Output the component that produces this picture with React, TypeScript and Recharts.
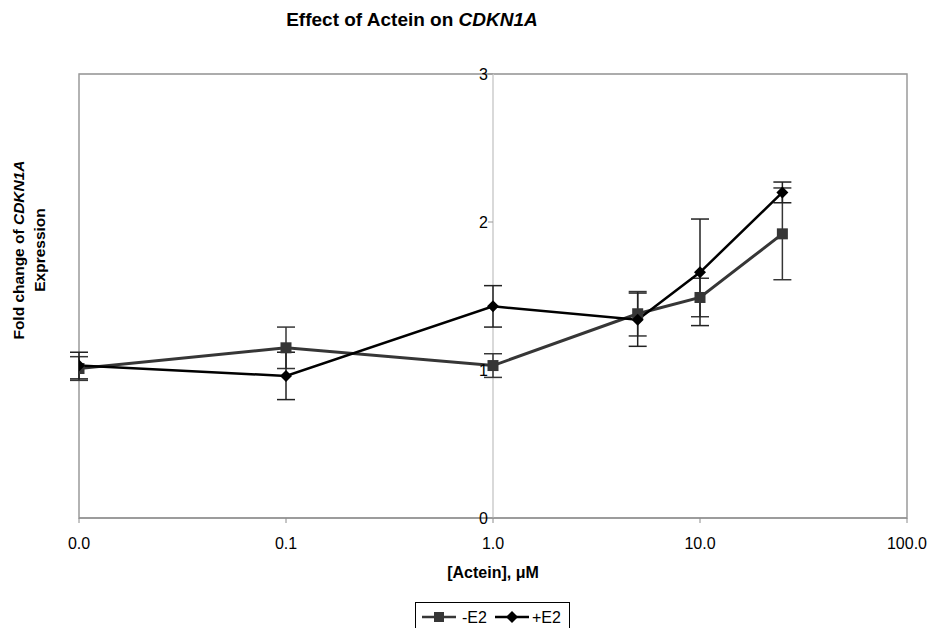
import {
  LineChart,
  Line,
  XAxis,
  YAxis,
  CartesianGrid,
  ErrorBar,
  ReferenceLine,
  ReferenceArea,
  ReferenceDot,
} from "recharts";

// concentrations (µM); 0.01 is shown as "0.0" on the axis
const doses = [0.01, 0.1, 1, 5, 10, 25];
const minusE2 = [1.01, 1.15, 1.03, 1.38, 1.49, 1.92];
const minusE2Err = [0.08, 0.14, 0.08, 0.15, 0.13, 0.31];
const plusE2 = [1.03, 0.96, 1.43, 1.34, 1.66, 2.2];
const plusE2Err = [0.09, 0.16, 0.14, 0.18, 0.36, 0.07];

const xTicks = [0.01, 0.1, 1, 10, 100];
const yTicks = [0, 1, 2, 3];

const data = doses.map((d, i) => ({
  dose: d,
  minus: minusE2[i],
  minusErr: minusE2Err[i],
  plus: plusE2[i],
  plusErr: plusE2Err[i],
}));

const FONT = '"Liberation Sans", Arial, sans-serif';
const MINUS_COLOR = "#363636";
const PLUS_COLOR = "#000000";

const SquareDot = (p: any) => (
  <rect key={p.index} x={p.cx - 5.5} y={p.cy - 5.5} width={11} height={11} fill={MINUS_COLOR} />
);

const DiamondDot = (p: any) => (
  <path
    key={p.index}
    d={`M${p.cx},${p.cy - 6} L${p.cx + 6},${p.cy} L${p.cx},${p.cy + 6} L${p.cx - 6},${p.cy} Z`}
    fill={PLUS_COLOR}
  />
);

function LegendIcon({ kind }: { kind: "square" | "diamond" }) {
  return (
    <svg width={34} height={14} style={{ display: "block" }}>
      <line x1={0} x2={34} y1={7} y2={7} stroke={kind === "square" ? MINUS_COLOR : PLUS_COLOR} strokeWidth={2.5} />
      {kind === "square" ? (
        <rect x={12} y={2} width={10} height={10} fill={MINUS_COLOR} />
      ) : (
        <path d="M17,1 L23,7 L17,13 L11,7 Z" fill={PLUS_COLOR} />
      )}
    </svg>
  );
}

export default function App() {
  return (
    <div
      style={{
        position: "absolute",
        left: 0,
        top: 0,
        width: 929,
        height: 628,
        overflow: "hidden",
        background: "#fff",
        fontFamily: FONT,
      }}
    >
      <div
        style={{
          position: "absolute",
          left: 212,
          top: 8,
          width: 400,
          textAlign: "center",
          fontSize: 19,
          lineHeight: "24px",
          fontWeight: "bold",
        }}
      >
        Effect of Actein on <i>CDKN1A</i>
      </div>

      <LineChart
        width={929}
        height={628}
        data={data}
        margin={{ top: 74, right: 22, bottom: 50, left: 0 }}
        style={{ fontFamily: FONT }}
      >
        <CartesianGrid vertical={false} stroke="#c4c4c4" />
        <XAxis
          dataKey="dose"
          type="number"
          scale="log"
          domain={[0.01, 100]}
          ticks={xTicks}
          tickFormatter={(v: number) => (v < 0.1 ? 0 : v).toFixed(1)}
          allowDataOverflow
          height={60}
          stroke="#8c8c8c"
          tickSize={5}
          tickMargin={15}
          tick={{ fill: "#000", fontSize: 16 }}
          label={(props: any) => {
            const vb = props.viewBox;
            return (
              <text
                x={vb.x + vb.width / 2}
                y={vb.y + vb.height}
                textAnchor="middle"
                fontSize={16}
                fontWeight="bold"
                fill="#000"
              >
                [Actein], μM
              </text>
            );
          }}
        />
        <YAxis
          type="number"
          domain={[0, 3]}
          ticks={yTicks}
          width={79}
          axisLine={false}
          tickLine={false}
          tick={false}
          label={() => (
            <g fontSize={15.5} fontWeight="bold" fill="#000">
              <text transform="translate(24,250) rotate(-90)" textAnchor="middle">
                Fold change of <tspan fontStyle="italic">CDKN1A</tspan>
              </text>
              <text transform="translate(45,250) rotate(-90)" textAnchor="middle">
                Expression
              </text>
            </g>
          )}
        />
        <ReferenceLine x={1} stroke="#cccccc" strokeWidth={1.5} />
        <ReferenceArea x1={0.01} x2={100} y1={0} y2={3} fill="none" stroke="#9a9a9a" strokeWidth={1.5} />
        {yTicks.map((t) => (
          <ReferenceDot
            key={t}
            x={1}
            y={t}
            r={1}
            shape={(p: any) => (
              <g>
                <line x1={p.cx - 5} x2={p.cx} y1={p.cy} y2={p.cy} stroke="#999" />
                <text
                  x={p.cx - 5}
                  y={p.cy + 5.5}
                  textAnchor="end"
                  fontSize={16}
                  fill="#000"
                  fontFamily={FONT}
                >
                  {t}
                </text>
              </g>
            )}
          />
        ))}
        <Line
          dataKey="minus"
          name="-E2"
          stroke={MINUS_COLOR}
          strokeWidth={3}
          dot={SquareDot}
          activeDot={false}
          isAnimationActive={false}
        >
          <ErrorBar dataKey="minusErr" direction="y" width={9} stroke={MINUS_COLOR} strokeWidth={1.5} />
        </Line>
        <Line
          dataKey="plus"
          name="+E2"
          stroke={PLUS_COLOR}
          strokeWidth={2.5}
          dot={DiamondDot}
          activeDot={false}
          isAnimationActive={false}
        >
          <ErrorBar dataKey="plusErr" direction="y" width={9} stroke="#222" strokeWidth={1.5} />
        </Line>
      </LineChart>

      <div
        style={{
          position: "absolute",
          left: 415,
          top: 602,
          width: 155,
          height: 32,
          border: "1.5px solid #000",
          boxSizing: "border-box",
          display: "flex",
          alignItems: "flex-start",
          paddingTop: 7,
          paddingLeft: 6,
          fontSize: 16,
          lineHeight: "16px",
        }}
      >
        <LegendIcon kind="square" />
        <span style={{ marginLeft: 6, marginRight: 8 }}>-E2</span>
        <LegendIcon kind="diamond" />
        <span style={{ marginLeft: 3 }}>+E2</span>
      </div>
    </div>
  );
}
